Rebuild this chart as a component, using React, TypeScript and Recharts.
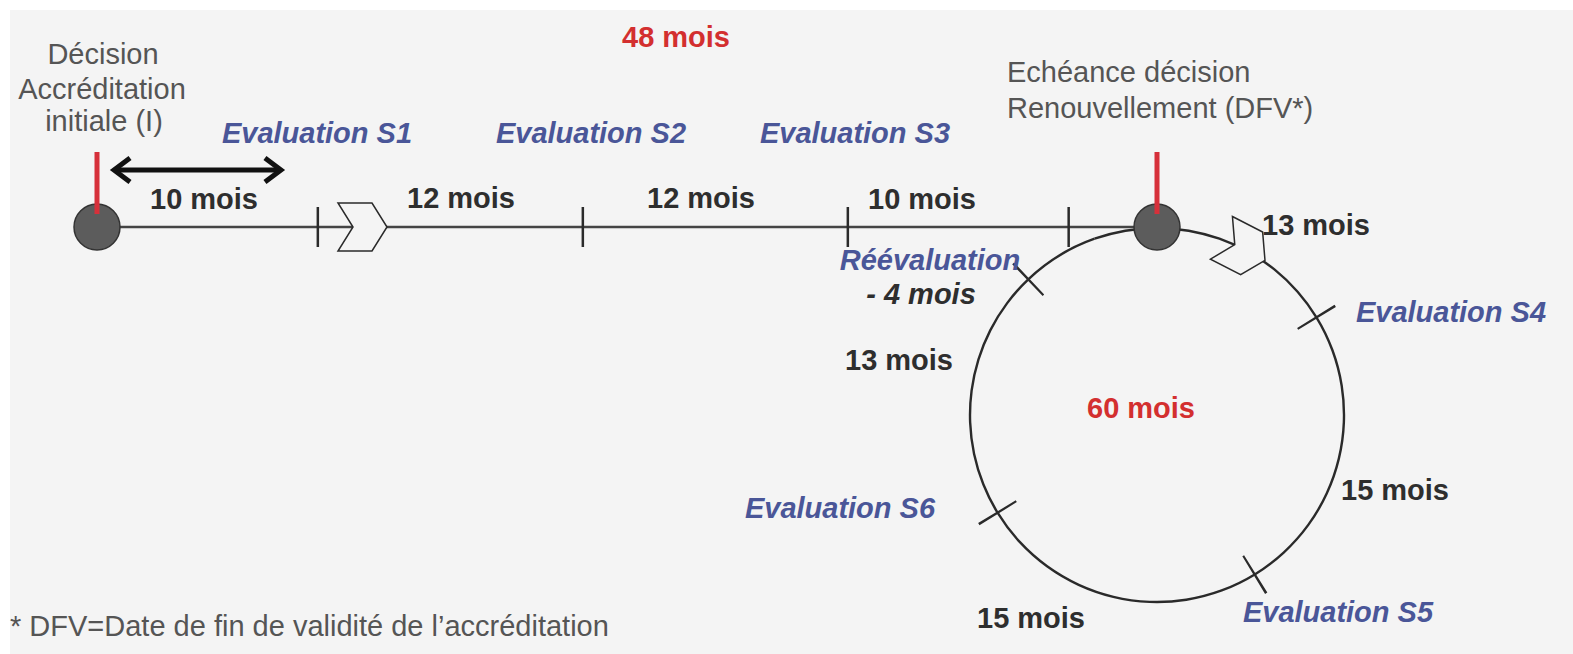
import { ComposedChart, Line, Scatter, XAxis, YAxis, PieChart, Pie, Cell } from "recharts"

// ---- data (months) ----
const decisionMonths = [0, 48] // initial decision, renewal deadline (DFV)
const evaluationMonths = [10, 22, 34, 44] // S1, S2, S3, re-evaluation (-4 mois)
const arrowMonths = [0.77, 8.33] // the "10 mois" double arrow
const chevronMonth = 12
const cycleMonths = [13, 15, 15, 13, 4] // 60 month renewal cycle

// ---- layout ----
const W = 1573
const H = 654
const LEFT_PX = 97 // month 0
const RIGHT_PX = 1157 // month 48
const PX_PER_MONTH = (RIGHT_PX - LEFT_PX) / 48
const at = (px: number) => (px - LEFT_PX) / PX_PER_MONTH
const xDomain = [at(0), at(W)]
const LINE_Y = 227
const ARROW_Y = 170
const CIRCLE_CY = 415
const CIRCLE_R = 187
const CYCLE_OFFSET = 19.5 // degrees, the drawing is not to scale
const TICK_W = 0.12

const FONT = "'Liberation Sans', Arial, Helvetica, sans-serif"
const BG = "#f4f4f4"
const INK = "#2a2a2a"
const RED = "#d6303a"
const CHEVRON = "-24,-24 10,-24 25,0 10,24 -24,24 -9,0"

const KIND: Record<string, any> = {
  note: { fill: "#555555", fontWeight: 400, fontStyle: "normal" },
  months: { fill: "#2e2e2e", fontWeight: 700, fontStyle: "normal" },
  evaluation: { fill: "#4a5698", fontWeight: 700, fontStyle: "italic" },
  total: { fill: "#d32f2f", fontWeight: 700, fontStyle: "normal" },
  offset: { fill: "#2e2e2e", fontWeight: 700, fontStyle: "italic" },
}

const labels = [
  { text: "Décision", m: at(103), y: 54, kind: "note" },
  { text: "Accréditation", m: at(102), y: 89, kind: "note" },
  { text: "initiale (I)", m: at(104), y: 121, kind: "note" },
  { text: "48 mois", m: at(676), y: 37, kind: "total" },
  { text: "Evaluation S1", m: at(317), y: 133, kind: "evaluation" },
  { text: "Evaluation S2", m: at(591), y: 133, kind: "evaluation" },
  { text: "Evaluation S3", m: at(855), y: 133, kind: "evaluation" },
  { text: "10 mois", m: at(204), y: 199, kind: "months" },
  { text: "12 mois", m: at(461), y: 198, kind: "months" },
  { text: "12 mois", m: at(701), y: 198, kind: "months" },
  { text: "10 mois", m: at(922), y: 199, kind: "months" },
  { text: "Réévaluation", m: at(930), y: 260, kind: "evaluation" },
  { text: "- 4 mois", m: at(921), y: 294, kind: "offset" },
  { text: "Echéance décision", m: at(1007), y: 72, kind: "note", anchor: "start" },
  { text: "Renouvellement (DFV*)", m: at(1007), y: 108, kind: "note", anchor: "start" },
  { text: "13 mois", m: at(1316), y: 225, kind: "months" },
  { text: "Evaluation S4", m: at(1451), y: 312, kind: "evaluation" },
  { text: "13 mois", m: at(899), y: 360, kind: "months" },
  { text: "60 mois", m: at(1141), y: 408, kind: "total" },
  { text: "15 mois", m: at(1395), y: 490, kind: "months" },
  { text: "Evaluation S6", m: at(840), y: 508, kind: "evaluation" },
  { text: "Evaluation S5", m: at(1338), y: 612, kind: "evaluation" },
  { text: "15 mois", m: at(1031), y: 618, kind: "months" },
  { text: "* DFV=Date de fin de validité de l’accréditation", m: at(10), y: 626, kind: "note", anchor: "start" },
]

const timeline = decisionMonths.map((m) => ({ m, y: LINE_Y }))
const ticks = evaluationMonths.map((m) => ({ m, y: LINE_Y }))
const arrow = arrowMonths.map((m) => ({ m, y: ARROW_Y }))
const arrowHeads = arrowMonths.map((m, i) => ({ m, y: ARROW_Y, dir: i === 0 ? -1 : 1 }))

// thin slices centred on every boundary of the cycle, except the top one
const tickRing = cycleMonths.flatMap((v, i) => {
  const last = i === cycleMonths.length - 1
  const gap = v - (i > 0 ? TICK_W / 2 : 0) - (last ? 0 : TICK_W / 2)
  return last ? [{ v: gap, tick: false }] : [{ v: gap, tick: false }, { v: TICK_W, tick: true }]
})

const Tick = (props: any) => (
  <line x1={props.cx} x2={props.cx} y1={props.cy - 20} y2={props.cy + 20} stroke={INK} strokeWidth={2.5} />
)

const Node = (props: any) => (
  <g>
    <circle cx={props.cx} cy={props.cy} r={23} fill="#5c5c5c" stroke="#333" strokeWidth={1.5} />
    <rect x={props.cx - 2.5} y={props.cy - 75} width={5} height={62} fill={RED} />
  </g>
)

const Chevron = (props: any) => (
  <polygon transform={`translate(${props.cx},${props.cy})`} points={CHEVRON} fill={BG} stroke={INK} strokeWidth={1.5} />
)

const ArrowHead = (props: any) => {
  const d = props.payload.dir
  return (
    <polyline
      points={`${props.cx - d * 16},${props.cy - 12} ${props.cx},${props.cy} ${props.cx - d * 16},${props.cy + 12}`}
      fill="none"
      stroke="#111"
      strokeWidth={5}
    />
  )
}

const TextMark = (props: any) => {
  const p = props.payload
  const k = KIND[p.kind]
  return (
    <text
      x={props.cx}
      y={props.cy}
      textAnchor={p.anchor || "middle"}
      dominantBaseline="central"
      fontFamily={FONT}
      fontSize={29}
      fontWeight={k.fontWeight}
      fontStyle={k.fontStyle}
      fill={k.fill}
    >
      {p.text}
    </text>
  )
}

// direction chevron on the renewal circle, 60% along the first slice
const CircleChevron = (props: any) => {
  if (props.index !== 0) return null
  const a = props.startAngle + (props.endAngle - props.startAngle) * 0.6
  const rad = (a * Math.PI) / 180
  const x = props.cx + CIRCLE_R * Math.cos(rad)
  const y = props.cy - CIRCLE_R * Math.sin(rad)
  return (
    <polygon
      transform={`translate(${x},${y}) rotate(${90 - a})`}
      points={CHEVRON}
      fill={BG}
      stroke={INK}
      strokeWidth={1.5}
    />
  )
}

export default function App() {
  const start = 90 + CYCLE_OFFSET
  return (
    <div style={{ position: "absolute", left: 0, top: 0, width: W, height: H, background: "#fff" }}>
      <div style={{ position: "absolute", left: 10, top: 10, right: 0, bottom: 0, background: BG }} />
      <div style={{ position: "absolute", left: 0, top: 0 }}>
        <PieChart width={W} height={H} margin={{ top: 0, right: 0, bottom: 0, left: 0 }}>
          <Pie
            data={cycleMonths.map((v) => ({ v }))}
            dataKey="v"
            cx={RIGHT_PX}
            cy={CIRCLE_CY}
            innerRadius={CIRCLE_R - 1.2}
            outerRadius={CIRCLE_R + 1.2}
            startAngle={start}
            endAngle={start - 360}
            stroke="none"
            label={CircleChevron}
            labelLine={false}
            isAnimationActive={false}
          >
            {cycleMonths.map((_, i) => (
              <Cell key={i} fill={INK} />
            ))}
          </Pie>
          <Pie
            data={tickRing}
            dataKey="v"
            cx={RIGHT_PX}
            cy={CIRCLE_CY}
            innerRadius={CIRCLE_R - 22}
            outerRadius={CIRCLE_R + 22}
            startAngle={start}
            endAngle={start - 360}
            stroke="none"
            isAnimationActive={false}
          >
            {tickRing.map((t, i) => (
              <Cell key={i} fill={t.tick ? INK : "none"} />
            ))}
          </Pie>
        </PieChart>
      </div>
      <div style={{ position: "absolute", left: 0, top: 0 }}>
        <ComposedChart width={W} height={H} margin={{ top: 0, right: 0, bottom: 0, left: 0 }}>
          <XAxis dataKey="m" type="number" domain={xDomain} allowDataOverflow hide />
          <YAxis dataKey="y" type="number" domain={[0, H]} reversed allowDataOverflow hide />
          <Line data={timeline} dataKey="y" stroke="#444" strokeWidth={2.5} dot={false} isAnimationActive={false} />
          <Line data={arrow} dataKey="y" stroke="#111" strokeWidth={5} dot={false} isAnimationActive={false} />
          <Scatter data={arrowHeads} dataKey="y" shape={ArrowHead} isAnimationActive={false} />
          <Scatter data={ticks} dataKey="y" shape={Tick} isAnimationActive={false} />
          <Scatter data={[{ m: chevronMonth, y: LINE_Y }]} dataKey="y" shape={Chevron} isAnimationActive={false} />
          <Scatter data={timeline} dataKey="y" shape={Node} isAnimationActive={false} />
          <Scatter data={labels} dataKey="y" shape={TextMark} isAnimationActive={false} />
        </ComposedChart>
      </div>
    </div>
  )
}
